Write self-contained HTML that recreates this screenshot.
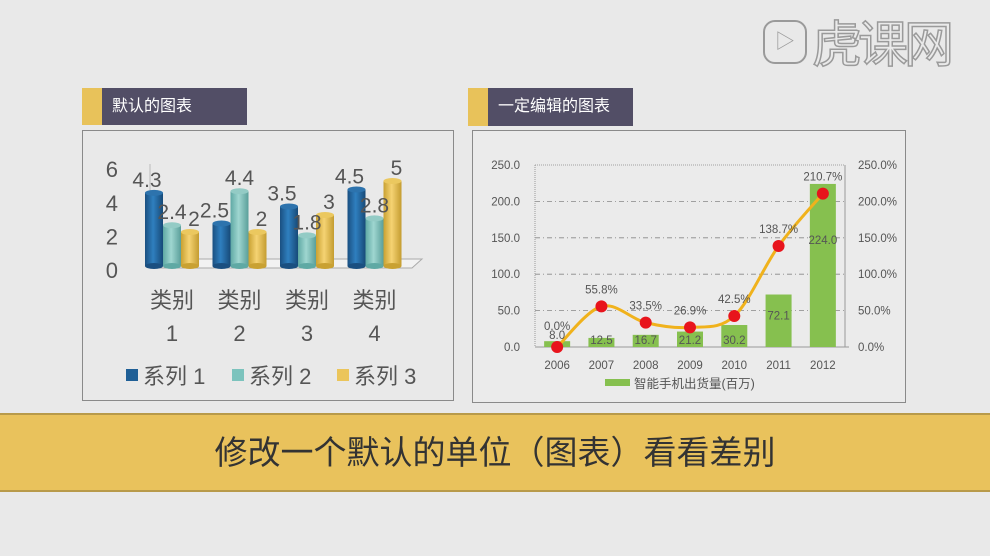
<!DOCTYPE html>
<html><head><meta charset="utf-8"><style>
body{margin:0;width:990px;height:556px;background:#e9e9e9;overflow:hidden;position:relative;font-family:"Liberation Sans","Noto Sans CJK SC",sans-serif}
.abs{position:absolute}
</style></head><body>
<div class="abs" style="left:763px;top:20px;width:44px;height:44px;border:2px solid #9a9a9a;border-radius:12px;box-sizing:border-box;color:#9a9a9a;font-size:20px;line-height:40px;text-align:center">▷</div>
<div class="abs" style="left:812px;top:12px;font-size:50px;color:#eaeaea;-webkit-text-stroke:1.5px #9a9a9a;letter-spacing:-4px;font-family:'Noto Sans CJK SC',sans-serif;line-height:58px">虎课网</div>

<div class="abs" style="left:82px;top:88px;width:20px;height:37px;background:#e8c25a"></div>
<div class="abs" style="left:102px;top:88px;width:145px;height:37px;background:#524e66;color:#fff;font-size:16px;line-height:37px;padding-left:10px;box-sizing:border-box">默认的图表</div>
<div class="abs" style="left:82px;top:130px;width:372px;height:271px;border:1px solid #8a8a8a;box-sizing:border-box"></div>

<div class="abs" style="left:468px;top:88px;width:20px;height:38px;background:#e8c25a"></div>
<div class="abs" style="left:488px;top:88px;width:145px;height:38px;background:#524e66;color:#fff;font-size:16px;line-height:38px;padding-left:10px;box-sizing:border-box">一定编辑的图表</div>
<div class="abs" style="left:472px;top:130px;width:434px;height:273px;border:1px solid #8a8a8a;box-sizing:border-box;background:#ebebeb"></div>

<div class="abs" style="left:0;top:413px;width:990px;height:79px;background:#e9c25c;border-top:2px solid #b89a4a;border-bottom:2px solid #b89a4a;box-sizing:border-box;text-align:center;font-size:33px;line-height:75px;color:#333">修改一个默认的单位（图表）看看差别</div>

<svg class="abs" style="left:0;top:0" width="990" height="556" id="svg">
<defs>
<linearGradient id="g0" x1="0" x2="1"><stop offset="0" stop-color="#1a4f80"/><stop offset=".45" stop-color="#2f7fbf"/><stop offset="1" stop-color="#174a78"/></linearGradient>
<linearGradient id="g1" x1="0" x2="1"><stop offset="0" stop-color="#5fa9a4"/><stop offset=".45" stop-color="#9fd6d0"/><stop offset="1" stop-color="#5a9f9a"/></linearGradient>
<linearGradient id="g2" x1="0" x2="1"><stop offset="0" stop-color="#c9a132"/><stop offset=".45" stop-color="#f5d373"/><stop offset="1" stop-color="#c49c30"/></linearGradient>
</defs>
</svg>
<script>
// left chart data
const leftCats=["类别","类别","类别","类别"];
const leftCatNums=["1","2","3","4"];
const s1=[4.3,2.5,3.5,4.5];
const s2=[2.4,4.4,1.8,2.8];
const s3=[2,2,3,5];
const leftTicks=[0,2,4,6];
const leftLegend=["系列 1","系列 2","系列 3"];
// right chart data
const years=["2006","2007","2008","2009","2010","2011","2012"];
const shipments=[8.0,12.5,16.7,21.2,30.2,72.1,224.0];
const growth=[0.0,55.8,33.5,26.9,42.5,138.7,210.7];
const rTicksL=[0,50,100,150,200,250];
const rTicksR=[0,50,100,150,200,250];

const svg=document.getElementById('svg');
const NS='http://www.w3.org/2000/svg';
function mk(tag,attrs,text){const e=document.createElementNS(NS,tag);for(const k in attrs)e.setAttribute(k,attrs[k]);if(text!=null)e.textContent=text;svg.appendChild(e);return e;}

// ---- left chart ----
const lBase=266, lUnit=17;
const ly=v=>lBase-v*lUnit;
const tickY=v=>270-v*16.8;
const lcx=i=>172+i*67.5;
let f=mk('polygon',{points:"150,268 412,268 422,259 160,259",fill:"#f2f2f2",stroke:"#aaa","stroke-width":1});

let wall=mk('line',{x1:150,y1:164,x2:150,y2:268,stroke:"#bbb"});

leftTicks.forEach(t=>{
  const e=mk('text',{x:118,y:tickY(t)+8,"text-anchor":"end","font-size":22,fill:"#555"},String(t));
  
});
const series=[s1,s2,s3];
leftCats.forEach((c,i)=>{
  series.forEach((s,k)=>{
    const x=lcx(i)+(k-1)*18-9, w=18, top=ly(s[i]);
    const b=mk('rect',{x:x,y:top,width:w,height:lBase-top,fill:`url(#g${k})`});
    
    const cap=mk('ellipse',{cx:x+w/2,cy:top,rx:w/2,ry:3,fill:["#2d73ad","#93cbc5","#ebc85f"][k]});
    
    const bot=mk('ellipse',{cx:x+w/2,cy:lBase,rx:w/2,ry:3,fill:["#1a4f80","#5fa9a4","#c9a132"][k]});
    
  });
  series.forEach((s,k)=>{
    const t=mk('text',{x:lcx(i)+(k-1)*18+(k===0?-7:k===2?4:0),y:ly(s[i])-6,"text-anchor":"middle","font-size":21,fill:"#555"},String(s[i]));
    
  });
  const a=mk('text',{x:lcx(i),y:308,"text-anchor":"middle","font-size":22,fill:"#555"},c);
  
  const b=mk('text',{x:lcx(i),y:341,"text-anchor":"middle","font-size":22,fill:"#555"},leftCatNums[i]);
  
});
const lgx=[126,232,337],lgc=["#1f5f96","#7cc3bd","#ebc55b"];
leftLegend.forEach((n,k)=>{
  const r=mk('rect',{x:lgx[k],y:369,width:12,height:12,fill:lgc[k]});
  
  const t=mk('text',{x:lgx[k]+17,y:384,"font-size":22,fill:"#555"},n);
  
});

// ---- right chart ----
const pL=535,pR=845,pT=165,pB=347;
const ry=v=>pB-v/250*(pB-pT);
const rpy=v=>pB-v/250*(pB-pT);
const band=(pR-pL)/years.length;
const rx=i=>pL+band*(i+0.5);
rTicksL.forEach(t=>{
  if(t>0){const g=mk('line',{x1:pL,y1:ry(t),x2:pR,y2:ry(t),stroke:"#888","stroke-dasharray":t===250?"1,1":"5,3,1,3","stroke-width":0.8});
  }
  const e=mk('text',{x:520,y:ry(t)+4,"text-anchor":"end","font-size":11.5,fill:"#555"},t.toFixed(1));
  
});
rTicksR.forEach(t=>{
  const e=mk('text',{x:858,y:rpy(t)+4,"font-size":11.5,fill:"#555"},t.toFixed(1)+"%");
  
});
let ax=mk('line',{x1:pL,y1:pT,x2:pL,y2:pB,stroke:"#999","stroke-dasharray":"1,1"});

let ax2=mk('line',{x1:pR,y1:pT,x2:pR,y2:pB,stroke:"#999"});

let ax3=mk('line',{x1:pL,y1:pB,x2:pR+4,y2:pB,stroke:"#999"});

years.forEach((y,i)=>{
  const top=ry(shipments[i]);
  const b=mk('rect',{x:rx(i)-13,y:top,width:26,height:pB-top,fill:"#86c04f"});
  
  const yl=mk('text',{x:rx(i),y:369,"text-anchor":"middle","font-size":11.5,fill:"#555"},y);
  
});
const pts=growth.map((g,i)=>[rx(i),rpy(g)]);
let d=`M${pts[0][0]},${pts[0][1]}`;
for(let i=0;i<pts.length-1;i++){
  const p0=pts[Math.max(0,i-1)],p1=pts[i],p2=pts[i+1],p3=pts[Math.min(pts.length-1,i+2)];
  const c1=[p1[0]+(p2[0]-p0[0])/6,p1[1]+(p2[1]-p0[1])/6],c2=[p2[0]-(p3[0]-p1[0])/6,p2[1]-(p3[1]-p1[1])/6];
  d+=` C${c1[0]},${c1[1]} ${c2[0]},${c2[1]} ${p2[0]},${p2[1]}`;
}
const ln=mk('path',{d:d,fill:"none",stroke:"#f0b21c","stroke-width":3});

years.forEach((y,i)=>{
  let vy;
  if(i===0)vy=pB-8;else if(i<5)vy=pB-3;else vy=ry(shipments[i])+(i===6?60:25);
  const v=mk('text',{x:rx(i),y:vy,"text-anchor":"middle","font-size":11.5,fill:"#555"},shipments[i].toFixed(1));
  
  const c=mk('circle',{cx:pts[i][0],cy:pts[i][1],r:6,fill:"#e8141c"});
  
  const g=mk('text',{x:rx(i),y:pts[i][1]-(i===0?17:13),"text-anchor":"middle","font-size":11.5,fill:"#555"},growth[i].toFixed(1)+"%");
  
});
const ls=mk('rect',{x:605,y:379,width:25,height:7,fill:"#86c04f"});

const lt=mk('text',{x:634,y:388,"font-size":12.5,fill:"#555"},"智能手机出货量(百万)");

</script>
</body></html>
